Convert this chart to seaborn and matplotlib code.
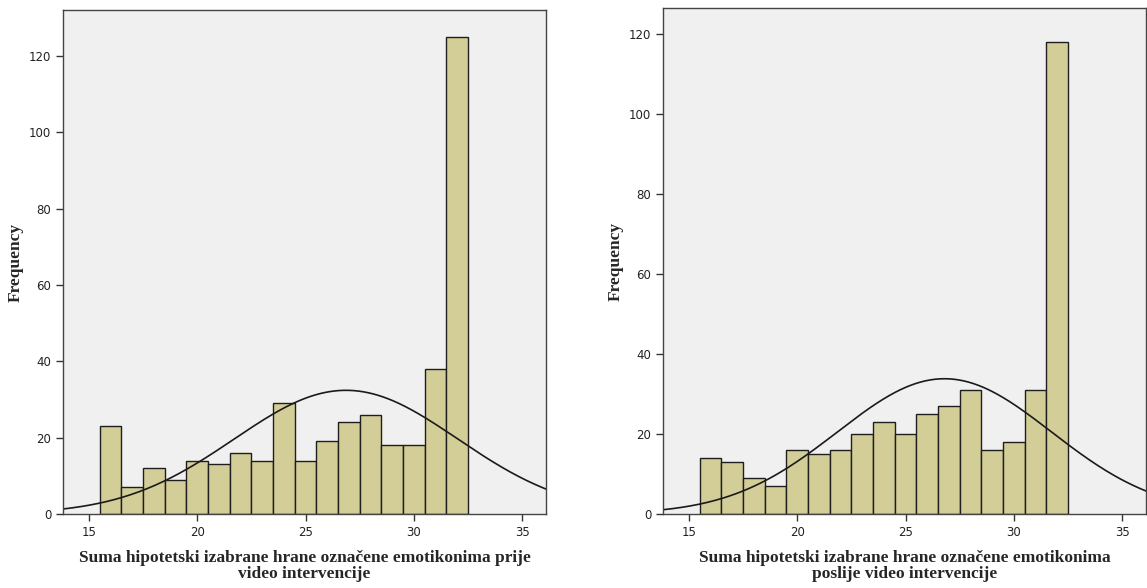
import numpy as np
import pandas as pd
import matplotlib
matplotlib.use('Agg')
import matplotlib.pyplot as plt
import seaborn as sns

sns.set_style('white')
plt.rcParams['font.family'] = ['DejaVu Sans']

# vrijednosti sume (16..32) i frekvencije
scores = list(range(16, 33))
freq_prije = [23, 7, 12, 9, 14, 13, 16, 14, 29, 14, 19, 24, 26, 18, 18, 38, 125]
freq_poslije = [14, 13, 9, 7, 16, 15, 16, 20, 23, 20, 25, 27, 31, 16, 18, 31, 118]
xlabels = ['Suma hipotetski izabrane hrane označene emotikonima prije\nvideo intervencije',
           'Suma hipotetski izabrane hrane označene emotikonima\nposlije video intervencije']
ylims = [132, 126.5]

fig = plt.figure(figsize=(11.47, 5.88), dpi=100)
positions = [[63 / 1147, 74 / 588, 483 / 1147, 504 / 588],
             [663 / 1147, 74 / 588, 483 / 1147, 506 / 588]]

for pos, freq, xl, ymax in zip(positions, [freq_prije, freq_poslije], xlabels, ylims):
    ax = fig.add_axes(pos)
    ax.set_facecolor('#f0f0f0')
    df = pd.DataFrame({'suma': scores, 'n': freq})
    sns.histplot(data=df, x='suma', weights='n', discrete=True, ax=ax,
                 color='#d3ce97', edgecolor='#1e1e1e', linewidth=1.0, alpha=1)
    # normalna krivulja (kao u SPSS-u)
    vals = np.repeat(scores, freq)
    mu, sd = vals.mean(), vals.std(ddof=1)
    xs = np.linspace(13.8, 36.1, 300)
    ys = len(vals) * np.exp(-0.5 * ((xs - mu) / sd) ** 2) / (sd * np.sqrt(2 * np.pi))
    ax.plot(xs, ys, color='#1a1a1a', lw=1.2)
    ax.set_xlim(13.8, 36.1)
    ax.set_ylim(0, ymax)
    ax.set_xticks([15, 20, 25, 30, 35])
    ax.set_yticks([0, 20, 40, 60, 80, 100, 120])
    ax.tick_params(axis='both', direction='out', length=5, width=1, color='#333333',
                   labelsize=8.5, labelcolor='#222222', bottom=True, left=True)
    for s in ax.spines.values():
        s.set_color('#444444')
        s.set_linewidth(1)
    ax.set_xlabel(xl, fontsize=12.5, fontweight='bold', family='Liberation Serif',
                  labelpad=8, linespacing=1.0)
    ax.set_ylabel('Frequency', fontsize=12.5, fontweight='bold', family='Liberation Serif', labelpad=4)

fig.savefig('out.png', dpi=100)
